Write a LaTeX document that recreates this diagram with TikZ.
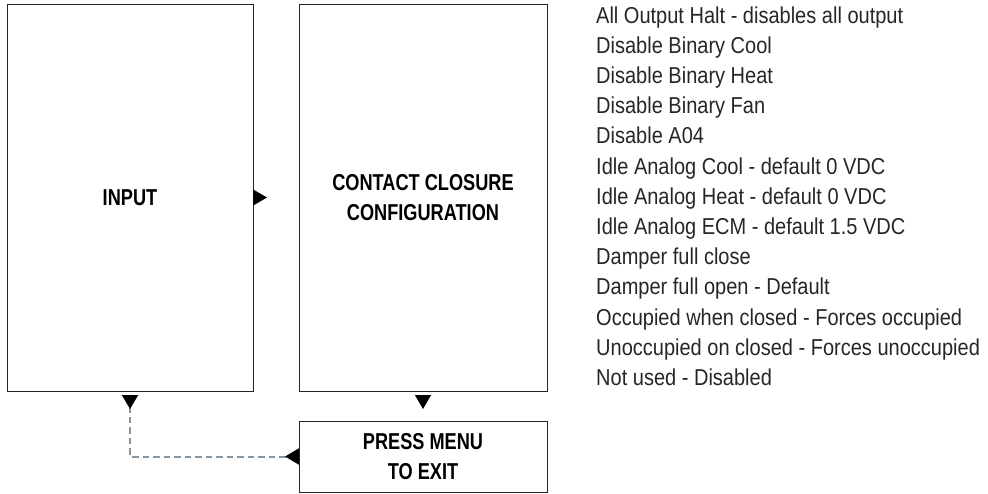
\documentclass[tikz,border=0pt]{standalone}
\usepackage{fontspec}
\usetikzlibrary{arrows.meta}
\newfontfamily\listfont{Liberation Sans}[FakeStretch=0.87]
\newfontfamily\boxfont{Liberation Sans}[FakeStretch=0.79]
\definecolor{dashgray}{RGB}{135,149,160}
\tikzset{
  menubox/.style={draw=black!85, line width=1pt, inner sep=0pt, outer sep=0pt,
       align=center, font=\boxfont\bfseries\fontsize{23}{30}\selectfont},
  flow/.style={-{Triangle[length=14pt,width=16pt]}, line width=1pt},
  backline/.style={dashgray, line width=2pt, dash pattern=on 6.5pt off 4pt,
       {Triangle[reversed,length=14pt,width=16pt,black]}-{Triangle[reversed,length=14pt,width=16pt,black]}},
  listitem/.style={anchor=base west, inner sep=0pt, text=black!85,
       font=\listfont\fontsize{23}{28}\selectfont}
}
\begin{document}
\begin{tikzpicture}[x=1pt,y=-1pt]
\useasboundingbox (0,0) rectangle (988,493);

\node[menubox, minimum width=246pt, minimum height=387pt] (input) at (130,197.5) {INPUT};
\node[menubox, minimum width=248pt, minimum height=387pt] (contact) at (423,197.5)
  {CONTACT CLOSURE\\CONFIGURATION};
\node[menubox, minimum width=248pt, minimum height=71pt] (press) at (423,456.5)
  {PRESS MENU\\TO EXIT};

\draw[flow, shorten >=32pt] (input) -- (contact);
\draw[flow, shorten <=4pt, shorten >=12pt] (contact) -- (press);
\draw[backline, shorten <=4pt] (input.south) |- (press.west);

\node[listitem] (halt) at (596,23) {All Output Halt - disables all output};
\node[listitem] (bincool) at (596,53.2) {Disable Binary Cool};
\node[listitem] (binheat) at (596,83.4) {Disable Binary Heat};
\node[listitem] (binfan) at (596,113.6) {Disable Binary Fan};
\node[listitem] (aofour) at (596,143.8) {Disable A04};
\node[listitem] (idlecool) at (596,174) {Idle Analog Cool - default 0 VDC};
\node[listitem] (idleheat) at (596,204.2) {Idle Analog Heat - default 0 VDC};
\node[listitem] (idleecm) at (596,234.4) {Idle Analog ECM - default 1.5 VDC};
\node[listitem] (dclose) at (596,264.6) {Damper full close};
\node[listitem] (dopen) at (596,294.8) {Damper full open - Default};
\node[listitem] (occ) at (596,325) {Occupied when closed - Forces occupied};
\node[listitem] (unocc) at (596,355.2) {Unoccupied on closed - Forces unoccupied};
\node[listitem] (unused) at (596,385.4) {Not used - Disabled};
\end{tikzpicture}
\end{document}
